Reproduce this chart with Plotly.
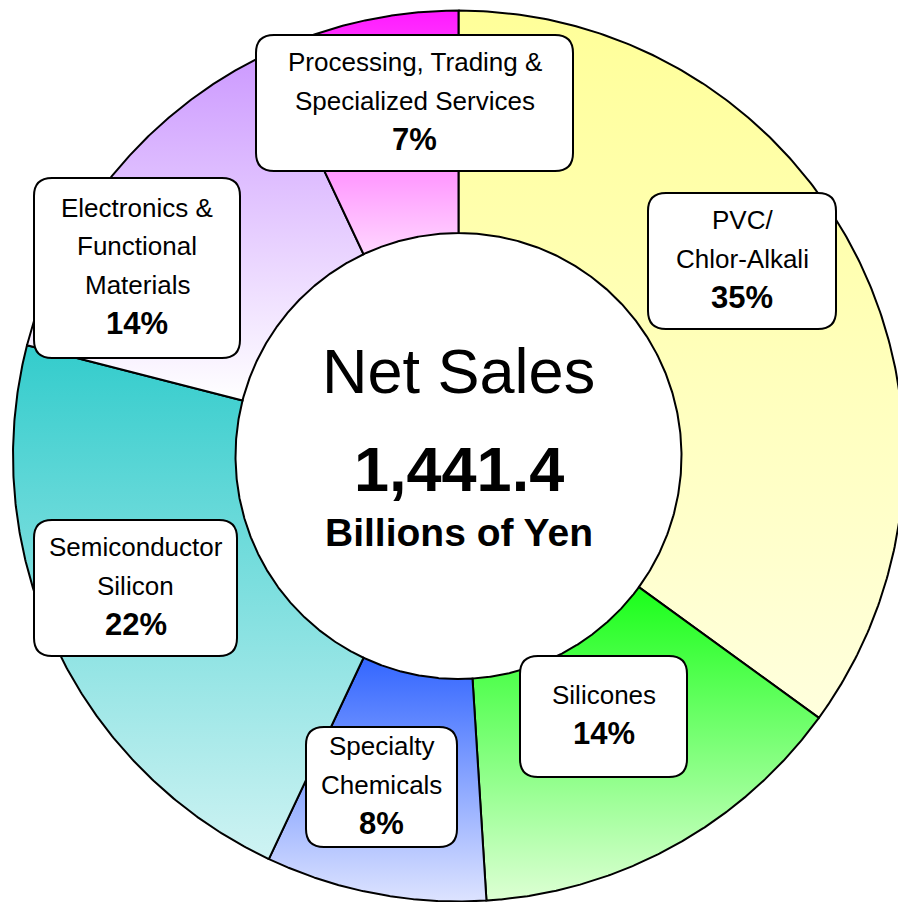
import numpy as np
import plotly.graph_objects as go

# Net sales by business segment (share of total, %)
segments = [
    "PVC/Chlor-Alkali",
    "Silicones",
    "Specialty Chemicals",
    "Semiconductor Silicon",
    "Electronics & Functional Materials",
    "Processing, Trading & Specialized Services",
]
shares = [35, 14, 8, 22, 14, 7]
label_lines = [
    ["PVC/", "Chlor-Alkali"],
    ["Silicones"],
    ["Specialty", "Chemicals"],
    ["Semiconductor", "Silicon"],
    ["Electronics &", "Functional", "Materials"],
    ["Processing, Trading &", "Specialized Services"],
]
net_sales_total = 1441.4  # billions of yen

# Vertical gradient for each slice: colour at top -> colour at bottom
top_colors = ["#FFFF99", "#1AFF1A", "#3366FF", "#33CCCC", "#CC99FF", "#FF1AFF"]
bottom_colors = ["#FFFFDD", "#DDFFD4", "#DDE3FF", "#CFF3F3", "#FFFFFF", "#FFD6FF"]

# ---- layout geometry (pixels, y grows downward) ----
W, H = 898, 902
CX, CY = 458.5, 456.0
R_OUT, R_IN = 445.5, 223.0

# label boxes: (x0, y0, x1, y1)
boxes = [
    (648, 193, 836, 329),
    (520, 656, 687, 777),
    (306, 727, 457, 847),
    (34, 520, 237, 656),
    (34, 178, 240, 358),
    (256, 35, 573, 171),
]
LINE_STEP = 38.5

FONT = "Liberation Sans, Arial"


def ring_sector(a0, a1, n=240):
    """Outline of an annular sector, angles in degrees clockwise from 12 o'clock."""
    t_out = np.radians(np.linspace(a0, a1, n))
    t_in = t_out[::-1]
    xs = np.concatenate([CX + R_OUT * np.sin(t_out), CX + R_IN * np.sin(t_in)])
    ys = np.concatenate([CY - R_OUT * np.cos(t_out), CY - R_IN * np.cos(t_in)])
    return np.append(xs, xs[0]), np.append(ys, ys[0])


def rounded_rect(x0, y0, x1, y1, r=18):
    return (
        f"M{x0 + r},{y0} L{x1 - r},{y0} Q{x1},{y0} {x1},{y0 + r} "
        f"L{x1},{y1 - r} Q{x1},{y1} {x1 - r},{y1} L{x0 + r},{y1} "
        f"Q{x0},{y1} {x0},{y1 - r} L{x0},{y0 + r} Q{x0},{y0} {x0 + r},{y0} Z"
    )


fig = go.Figure()

total = sum(shares)
start = 0.0
for name, share, c_top, c_bot in zip(segments, shares, top_colors, bottom_colors):
    a0 = start / total * 360.0
    a1 = (start + share) / total * 360.0
    start += share
    xs, ys = ring_sector(a0, a1)
    fig.add_trace(
        go.Scatter(
            x=xs,
            y=ys,
            mode="lines",
            fill="toself",
            # y axis is reversed, so the low end of the scale sits at the bottom
            fillgradient=dict(
                type="vertical",
                colorscale=[[0, c_bot], [1, c_top]],
            ),
            line=dict(color="black", width=2),
            name=name,
            hoverinfo="name",
            showlegend=False,
        )
    )

shapes = []
annotations = []
for lines, share, (x0, y0, x1, y1) in zip(label_lines, shares, boxes):
    shapes.append(
        dict(
            type="path",
            path=rounded_rect(x0, y0, x1, y1),
            xref="x",
            yref="y",
            fillcolor="white",
            line=dict(color="black", width=2),
            layer="above",
        )
    )
    rows = [(t, False) for t in lines] + [(f"{share}%", True)]
    xc = (x0 + x1) / 2
    yc = (y0 + y1) / 2 - 2.5
    n = len(rows)
    for i, (t, is_pct) in enumerate(rows):
        annotations.append(
            dict(
                x=xc,
                y=yc + (i - (n - 1) / 2) * LINE_STEP,
                xref="x",
                yref="y",
                text=f"<b>{t}</b>" if is_pct else t,
                showarrow=False,
                xanchor="center",
                yanchor="middle",
                font=dict(family=FONT, size=31 if is_pct else 26, color="black"),
            )
        )

# centre text
annotations += [
    dict(x=CX, y=371, xref="x", yref="y", text="Net Sales", showarrow=False,
         xanchor="center", yanchor="middle",
         font=dict(family=FONT, size=63, color="black")),
    dict(x=CX, y=469, xref="x", yref="y", text=f"<b>{net_sales_total:,.1f}</b>",
         showarrow=False, xanchor="center", yanchor="middle",
         font=dict(family=FONT, size=63, color="black")),
    dict(x=CX, y=532, xref="x", yref="y", text="<b>Billions of Yen</b>",
         showarrow=False, xanchor="center", yanchor="middle",
         font=dict(family=FONT, size=39, color="black")),
]

fig.update_layout(
    width=W,
    height=H,
    margin=dict(l=0, r=0, t=0, b=0),
    paper_bgcolor="white",
    plot_bgcolor="white",
    xaxis=dict(range=[0, W], visible=False, fixedrange=True),
    yaxis=dict(range=[H, 0], visible=False, fixedrange=True),
    shapes=shapes,
    annotations=annotations,
    showlegend=False,
)

fig.write_html("out.html")
